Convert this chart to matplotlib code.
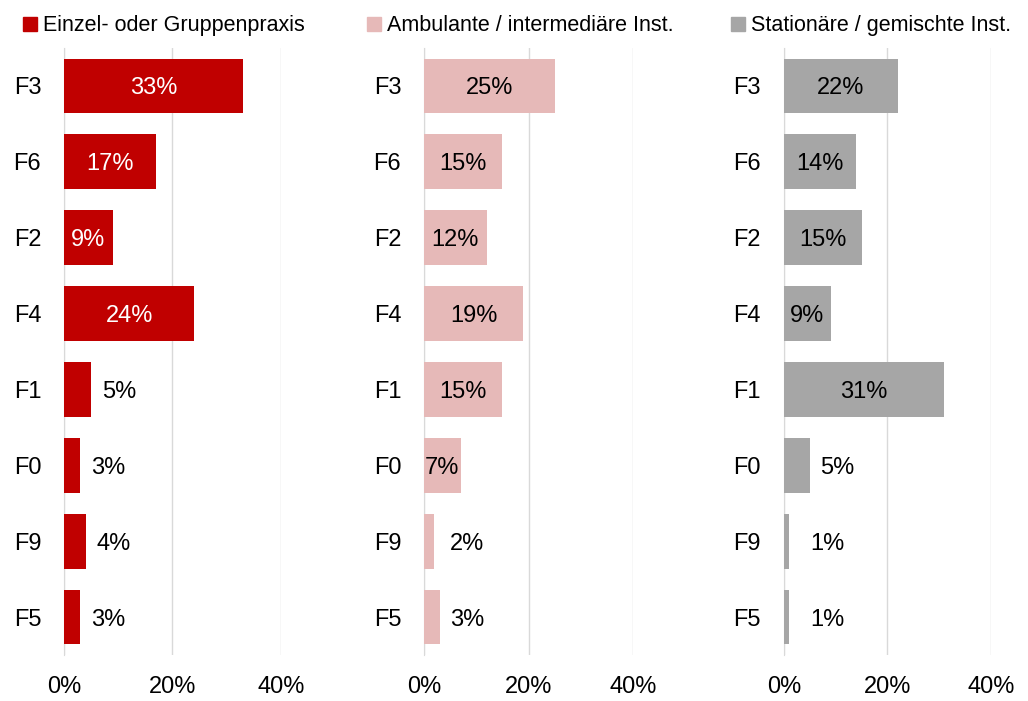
import numpy as np
import matplotlib.pyplot as plt
from matplotlib.patches import Patch

plt.rcParams['font.family'] = ['Liberation Sans', 'DejaVu Sans']

categories = ['F3', 'F6', 'F2', 'F4', 'F1', 'F0', 'F9', 'F5']
series_names = ['Einzel- oder Gruppenpraxis', 'Ambulante / intermediäre Inst.',
                'Stationäre / gemischte Inst.']
praxis = [33, 17, 9, 24, 5, 3, 4, 3]
ambulant = [25, 15, 12, 19, 15, 7, 2, 3]
stationaer = [22, 14, 15, 9, 31, 5, 1, 1]
xticks = [0, 20, 40]

colors = ['#C00000', '#E6B9B8', '#A6A6A6']
inside_color = ['white', 'black', 'black']
inside_min = [9, 7, 9]

fig = plt.figure(figsize=(10.28, 7.01), dpi=100)
bottom, height = 0.0656, 0.866
lefts = [0.0623, 0.4125, 0.7626]
widths = [0.211, 0.2033, 0.2014]
legend_x = [0.022, 0.357, 0.711]
fs = 17

y = np.arange(len(categories))
for i, vals in enumerate([praxis, ambulant, stationaer]):
    ax = fig.add_axes([lefts[i], bottom, widths[i], height])
    v = np.array(vals) / 100
    ax.barh(y, v, height=0.72, color=colors[i], zorder=2)
    ax.set_xlim(0, 0.4)
    ax.set_ylim(len(categories) - 0.5, -0.5)
    ax.set_yticks(y)
    ax.set_yticklabels(categories, fontsize=fs)
    ax.set_xticks([t / 100 for t in xticks])
    ax.set_xticklabels([f'{t}%' for t in xticks], fontsize=fs)
    ax.tick_params(axis='y', length=0, pad=16.5)
    ax.tick_params(axis='x', length=0, pad=15)
    ax.grid(axis='x', color='#D9D9D9', linewidth=1, zorder=0)
    for s in ['top', 'right', 'bottom']:
        ax.spines[s].set_visible(False)
    ax.spines['left'].set_color('#D9D9D9')
    ax.spines['left'].set_zorder(1)
    for yy, val in zip(y, vals):
        if val >= inside_min[i]:
            ax.text(val / 200, yy, f'{val}%', ha='center', va='center_baseline',
                    color=inside_color[i], fontsize=fs, zorder=3)
        else:
            ax.text(max(val, 3) / 100 + 0.02, yy, f'{val}%', ha='left',
                    va='center_baseline', color='black', fontsize=fs, zorder=3)
    fig.legend(handles=[Patch(color=colors[i], label=series_names[i])],
               loc='center left', bbox_to_anchor=(legend_x[i], 0.963),
               frameon=False, fontsize=15.5, handlelength=0.65, handleheight=0.65,
               handletextpad=0.3, borderaxespad=0, borderpad=0)

fig.savefig('out.png', dpi=100)
